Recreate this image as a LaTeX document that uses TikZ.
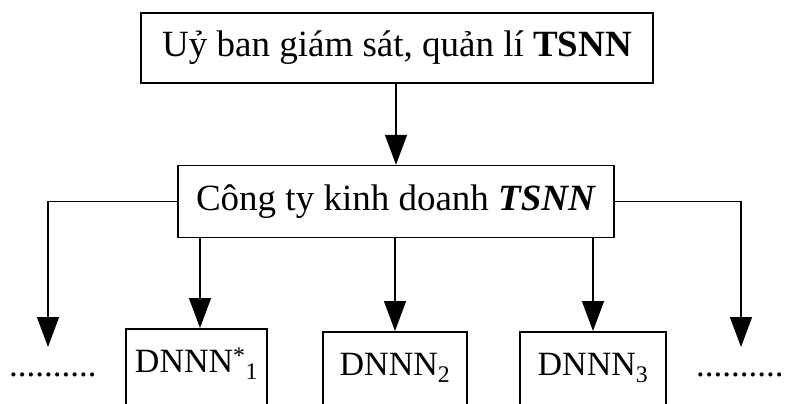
\documentclass[tikz,border=0pt]{standalone}
\usepackage{fontspec}
\setmainfont{Liberation Serif}
\usetikzlibrary{arrows.meta}
\tikzset{
  box/.style={draw, line width=1.5pt, inner sep=0pt, align=center, font=\fontsize{37}{44}\selectfont},
  lowbox/.style={box, anchor=north, minimum height=100pt, text height=24pt, text depth=36pt, font=\fontsize{34}{40}\selectfont},
  conn/.style={line width=1.5pt},
  arr/.style={conn, -{Triangle[length=30pt,width=22pt]}},
  dots/.style={inner sep=0pt, font=\fontsize{35}{40}\selectfont}
}
\begin{document}
\begin{tikzpicture}[x=1pt,y=-1pt]
\clip (0,0) rectangle (787,404);
\node[box, minimum width=512pt, minimum height=70pt] (top) at (397,48) {Uỷ ban giám sát, quản lí \textbf{TSNN}};
\node[box, minimum width=436pt, minimum height=72pt] (mid) at (396,201.5) {Công ty kinh doanh \textbf{\textit{TSNN}}};
\node[lowbox, minimum width=141pt] (d1) at (196.5,328) {DNNN\textsuperscript{*}\textsubscript{1}};
\node[lowbox, minimum width=144pt] (d2) at (395,331) {DNNN\textsubscript{2}};
\node[lowbox, minimum width=146pt] (d3) at (593,331) {DNNN\textsubscript{3}};
\node[dots, anchor=base west] (ldots) at (9,376) {..........};
\node[dots, anchor=base west] (rdots) at (696,376) {..........};
\coordinate (lend) at (48,347);
\coordinate (rend) at (741,347);
\coordinate (a1) at (200,328);
\draw[arr] (top.south -| mid.north) -- (mid.north);
\draw[arr] (mid.west) -| (lend);
\draw[arr] (mid.east) -| (rend);
\draw[arr] (a1 |- mid.south) -- (a1);
\draw[arr] (d2.north |- mid.south) -- (d2.north);
\draw[arr] (d3.north |- mid.south) -- (d3.north);
\end{tikzpicture}
\end{document}
